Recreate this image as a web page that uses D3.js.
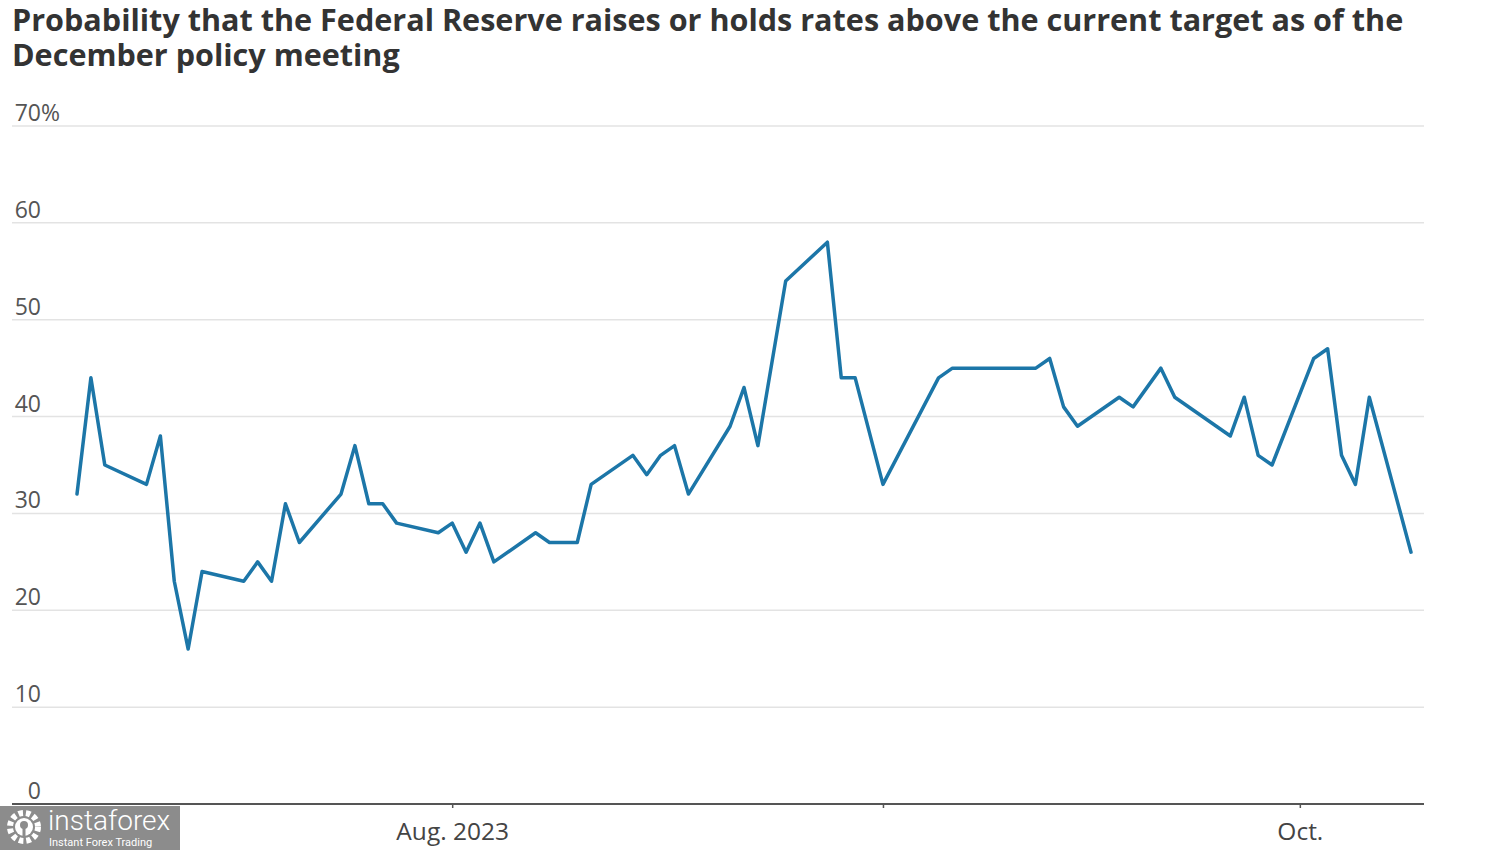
<!DOCTYPE html>
<html>
<head>
<meta charset="utf-8">
<script src="https://cdn.jsdelivr.net/npm/d3@7"></script>
<style>
  html, body { margin: 0; padding: 0; background: #fff; }
  svg { display: block; }
</style>
</head>
<body>
<svg id="chart" width="1500" height="850"></svg>
<script>
// ---- Data ----
const titleLines = [
  "Probability that the Federal Reserve raises or holds rates above the current target as of the",
  "December policy meeting"
];
const dates = [
  "2023-07-05","2023-07-06","2023-07-07","2023-07-10","2023-07-11","2023-07-12","2023-07-13","2023-07-14",
  "2023-07-17","2023-07-18","2023-07-19","2023-07-20","2023-07-21",
  "2023-07-24","2023-07-25","2023-07-26","2023-07-27","2023-07-28",
  "2023-07-31","2023-08-01","2023-08-02","2023-08-03","2023-08-04",
  "2023-08-07","2023-08-08","2023-08-09","2023-08-10","2023-08-11",
  "2023-08-14","2023-08-15","2023-08-16","2023-08-17","2023-08-18",
  "2023-08-21","2023-08-22","2023-08-23","2023-08-25",
  "2023-08-28","2023-08-29","2023-08-30","2023-09-01",
  "2023-09-05","2023-09-06","2023-09-12","2023-09-13","2023-09-14","2023-09-15",
  "2023-09-18","2023-09-19","2023-09-21","2023-09-22",
  "2023-09-26","2023-09-27","2023-09-28","2023-09-29",
  "2023-10-02","2023-10-03","2023-10-04","2023-10-05","2023-10-06","2023-10-09"
];
const probability = [
  32, 44, 35, 33, 38, 23, 16, 24,
  23, 25, 23, 31, 27,
  32, 37, 31, 31, 29,
  28, 29, 26, 29, 25,
  28, 27, 27, 27, 33,
  36, 34, 36, 37, 32,
  39, 43, 37, 54,
  58, 44, 44, 33,
  44, 45, 45, 46, 41, 39,
  42, 41, 45, 42,
  38, 42, 36, 35,
  46, 47, 36, 33, 42, 26
];
const yTicks = [0, 10, 20, 30, 40, 50, 60, 70];
const xTickDates = ["2023-08-01", "2023-09-01", "2023-10-01"];
const xTickLabels = ["Aug. 2023", "", "Oct."];

// ---- Setup ----
const parse = d3.utcParse("%Y-%m-%d");
const data = dates.map((d, i) => ({ date: parse(d), value: probability[i] }));

const svg = d3.select("#chart");
const font = "'Open Sans', 'Noto Sans', sans-serif";

const x = d3.scaleUtc()
  .domain([parse("2023-07-05"), parse("2023-10-09")])
  .range([77, 1411]);
const y = d3.scaleLinear().domain([0, 70]).range([804, 126]);

const gridLeft = 12, gridRight = 1424;

// Title
const title = svg.append("g");
titleLines.forEach((t, i) => {
  title.append("text")
    .attr("x", 12)
    .attr("y", 31 + i * 35)
    .attr("font-family", font)
    .attr("font-weight", 700)
    .attr("font-size", 25)
    .attr("fill", "#333")
    .text(t);
});
// fit first title line to target width
const first = title.select("text").node();
const w = first.getComputedTextLength();
const fs = 25 * 1392 / w;
title.selectAll("text").attr("font-size", fs);

// Gridlines
svg.append("g")
  .selectAll("line")
  .data(yTicks.filter(d => d > 0))
  .join("line")
  .attr("x1", gridLeft).attr("x2", gridRight)
  .attr("y1", d => y(d)).attr("y2", d => y(d))
  .attr("stroke", "#e3e3e3")
  .attr("stroke-width", 1.5);

// Y labels (number right-aligned, % hangs)
const yl = svg.append("g");
yTicks.forEach(d => {
  yl.append("text")
    .attr("x", 41)
    .attr("y", y(d) - 5)
    .attr("text-anchor", "end")
    .attr("font-family", font)
    .attr("font-size", 23)
    .attr("fill", "#555")
    .text(d);
  if (d === 70) {
    yl.append("text")
      .attr("x", 41)
      .attr("y", y(d) - 5)
      .attr("font-family", font)
      .attr("font-size", 23)
      .attr("fill", "#555")
      .text("%");
  }
});

// X axis
const xAxis = d3.axisBottom(x)
  .tickValues(xTickDates.map(parse))
  .tickFormat((d, i) => xTickLabels[i])
  .tickSize(4)
  .tickPadding(15);
const gx = svg.append("g").attr("transform", `translate(0,${y(0)})`).call(xAxis);
gx.select(".domain").remove();
gx.insert("line", ":first-child")
  .attr("x1", gridLeft).attr("x2", gridRight)
  .attr("y1", 0).attr("y2", 0)
  .attr("stroke", "#555").attr("stroke-width", 2);
gx.selectAll(".tick line").attr("stroke", "#555").attr("stroke-width", 1.5);
gx.selectAll(".tick text")
  .attr("font-family", font)
  .attr("font-size", 24.5)
  .attr("fill", "#444");

// Line
const line = d3.line().x(d => x(d.date)).y(d => y(d.value));
svg.append("path")
  .datum(data)
  .attr("d", line)
  .attr("fill", "none")
  .attr("stroke", "#1c76a8")
  .attr("stroke-width", 3.5)
  .attr("stroke-linejoin", "round")
  .attr("stroke-linecap", "round");

// Watermark
const wm = svg.append("g");
wm.append("rect").attr("x", 0).attr("y", 806).attr("width", 180).attr("height", 44).attr("fill", "#8c8c8c");
const gear = wm.append("g").attr("transform", "translate(24,827)");
gear.append("circle").attr("r", 14).attr("fill", "none").attr("stroke", "#fff").attr("stroke-width", 6).attr("stroke-dasharray", "4.5 3");
gear.append("circle").attr("r", 9).attr("fill", "#fff");
gear.append("circle").attr("r", 4).attr("cy", -2).attr("fill", "#8c8c8c");
gear.append("rect").attr("x", -1.5).attr("y", 1).attr("width", 3).attr("height", 9).attr("fill", "#8c8c8c");
wm.append("text").attr("x", 48).attr("y", 830)
  .attr("font-family", "'Roboto', sans-serif").attr("font-weight", 300)
  .attr("font-size", 28).attr("fill", "#fff").text("instaforex");
wm.append("text").attr("x", 49).attr("y", 846)
  .attr("font-family", "'Roboto', sans-serif")
  .attr("font-size", 11).attr("fill", "#fff").text("Instant Forex Trading");
</script>
</body>
</html>
